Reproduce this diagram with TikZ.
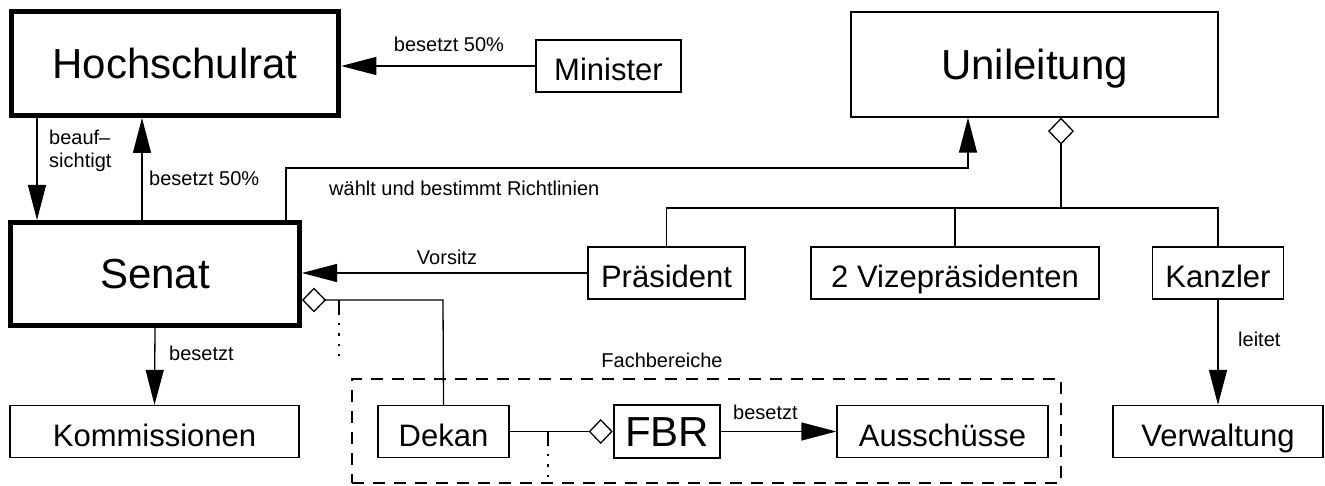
\documentclass[tikz,border=0pt]{standalone}
\usepackage{fontspec}
\setmainfont{Liberation Sans}
\usetikzlibrary{arrows.meta}
\newcommand{\fBig}{\fontsize{42}{48}\selectfont}
\newcommand{\fMed}{\fontsize{31}{35}\selectfont}
\newcommand{\fSm}{\fontsize{20}{23}\selectfont}
\begin{document}
\begin{tikzpicture}[x=1pt,y=-1pt,
  thin line/.style={line width=1.3pt},
  bigbox/.style={draw,line width=5pt,inner sep=0pt,font=\fBig,text height=30pt,text depth=0pt},
  plainbox/.style={draw,line width=1.3pt,inner sep=0pt},
  medbox/.style={plainbox,minimum height=52pt,font=\fMed,text height=29pt,text depth=0pt},
  fbrbox/.style={draw,line width=2.6pt,inner sep=0pt,font=\fBig,text height=30pt,text depth=0pt},
  lbl/.style={font=\fSm,inner sep=0pt},
  arr/.style={thin line,-{Triangle[length=35pt,width=18pt]}},
  diaS/.style={thin line,{Diamond[open,length=24pt,width=25pt]}-},
  dots/.style={line width=2.2pt,dash pattern=on 2.2pt off 8pt},
  fachbox/.style={draw,line width=1.3pt,dash pattern=on 12pt off 9pt}
]
\useasboundingbox (0,0) rectangle (1325,486);

% boxes
\node[bigbox,minimum width=327.5pt,minimum height=104pt] (hoch) at (175,63.5) {Hochschulrat};
\node[medbox,minimum width=145pt] (minister) at (608.5,66) {Minister};
\node[plainbox,minimum width=367pt,minimum height=105pt,font=\fBig,text height=30pt,text depth=0pt] (unil) at (1034.5,64.5) {Unileitung};
\node[bigbox,minimum width=289pt,minimum height=103pt] (senat) at (155,274) {Senat};
\node[medbox,minimum width=289pt] (komm) at (154.5,431.5) {Kommissionen};
\node[medbox,minimum width=157pt] (praes) at (666.5,273) {Präsident};
\node[medbox,minimum width=288pt] (vize) at (955,273) {2 Vizepräsidenten};
\node[medbox,minimum width=131pt] (kanzler) at (1218,273) {Kanzler};
\node[medbox,minimum width=210pt] (verw) at (1218,431.5) {Verwaltung};
\node[fachbox,minimum width=709pt,minimum height=104pt] (fach) at (706.5,431) {};
\node[medbox,minimum width=131pt] (dekan) at (443.5,431.5) {Dekan};
\node[fbrbox,minimum width=106pt,minimum height=53pt] (fbr) at (667,431.5) {FBR};
\node[medbox,minimum width=211pt] (aussch) at (942.5,431.5) {Ausschüsse};

% helper coordinates
\coordinate (xa) at (37,0);
\coordinate (xb) at (142,0);
\coordinate (w1) at (286,168);
\coordinate (w2) at (968,168);
\coordinate (bus) at (1061,208);
\coordinate (sd) at (0,300);
\coordinate (sdc) at (443,300);
\coordinate (d1) at (339,300);
\coordinate (d2) at (339,313);
\coordinate (d3) at (339,356);
\coordinate (e1) at (548,431.5);
\coordinate (e2) at (548,444);
\coordinate (e3) at (548,478);

% connectors
\draw[arr] (minister.west) -- (minister.west -| hoch.east);
\draw[arr] (hoch.south -| xa) -- (senat.north -| xa);
\draw[arr] (senat.north -| xb) -- (hoch.south -| xb);
\draw[arr] (senat.north -| w1) -- (w1) -- (w2) -- (unil.south -| w2);
\draw[thin line,{Diamond[open,length=27pt,width=26pt]}-] (unil.south -| bus) -- (bus);
\draw[thin line] (praes.north) |- (kanzler.north |- bus) -- (kanzler.north);
\draw[thin line] (vize.north) -- (vize.north |- bus);
\draw[arr] (praes.west) -- (praes.west -| senat.east);
\draw[diaS] (senat.east |- sd) -- (sdc) -- (dekan.north);
\draw[thin line] (d1) -- (d2);
\draw[dots] (d2) -- (d3);
\draw[arr] (senat.south) -- (komm.north);
\draw[diaS] (fbr.west) -- (dekan.east);
\draw[thin line] (e1) -- (e2);
\draw[dots] (e2) -- (e3);
\draw[arr] (fbr.east) -- (aussch.west);
\draw[arr] (kanzler.south) -- (verw.north);

% labels
\node[lbl] (l1) at (449,44) {besetzt 50\%};
\node[lbl,anchor=west,align=left] (l2) at (49,151) {beauf–\\sichtigt};
\node[lbl,anchor=west] (l3) at (149,178) {besetzt 50\%};
\node[lbl,anchor=west] (l4) at (329,188) {wählt und bestimmt Richtlinien};
\node[lbl] (l5) at (447,257) {Vorsitz};
\node[lbl,anchor=west] (l6) at (169,353) {besetzt};
\node[lbl] (l7) at (662,360) {Fachbereiche};
\node[lbl,anchor=west] (l8) at (733,412) {besetzt};
\node[lbl,anchor=west] (l9) at (1238,339) {leitet};
\end{tikzpicture}
\end{document}
